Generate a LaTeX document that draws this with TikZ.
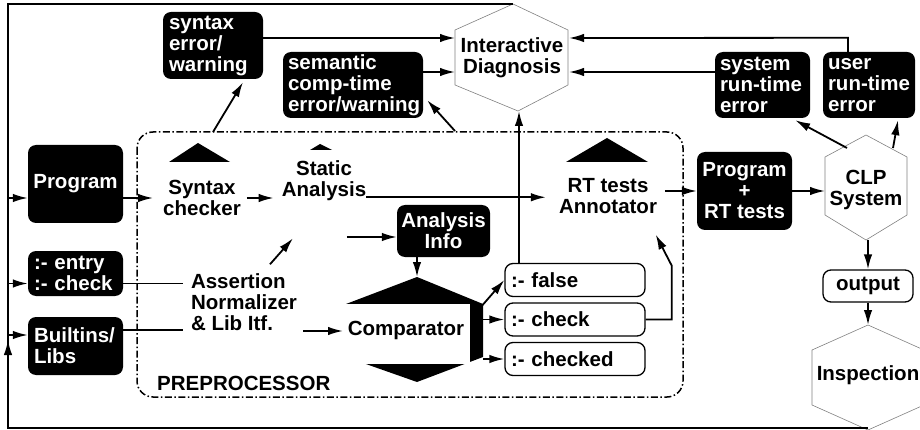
\documentclass[tikz,border=0pt]{standalone}
\usepackage{fontspec}
\setmainfont{Liberation Sans}
\usetikzlibrary{arrows.meta}
\begin{document}
\begin{tikzpicture}[x=1pt,y=-1pt,
	every node/.style={font=\fontsize{20.5}{21}\selectfont\bfseries, inner sep=0pt},
	blkbox/.style={fill=black, text=white, rounded corners=8pt},
	wbox/.style={draw, line width=1.3pt, rounded corners=8pt, inner xsep=6pt, minimum height=33pt},
	hexline/.style={draw=gray, line width=0.6pt},
	link/.style={line width=1.8pt},
	arr/.style={line width=1.8pt, -{Latex[length=15pt,width=8.5pt]}}]
	\useasboundingbox (0,0) rectangle (920,430);
	\draw[line width=1.5pt, dash pattern=on 7pt off 2.5pt on 1.5pt off 2.5pt, rounded corners=16pt] (137,132) rectangle (683,397);
	\draw[hexline] (513,4) -- (568,30) -- (568,85) -- (518,111) -- (455,85) -- (455,30) -- cycle;
	\draw[hexline] (866,135) -- (907,157) -- (907,215) -- (866,240) -- (825,215) -- (825,157) -- cycle;
	\draw[hexline] (868,325) -- (924,350) -- (924,405) -- (868,430) -- (812,405) -- (812,350) -- cycle;
	\fill (169,162) -- (198,143) -- (230,162) -- cycle;
	\fill (310,150) -- (320,144) -- (332,150) -- cycle;
	\fill (566,162) -- (607,138) -- (648,162) -- cycle;
	\fill (346,304) -- (417,277) -- (483,304) -- (483,357) -- (417,382) -- (346,357) -- cycle;
	\fill[white] (346,304) rectangle (470,364);
	\coordinate (diagT) at (513,4);
	\coordinate (diagL1) at (455,38);
	\coordinate (diagL2) at (455,72);
	\coordinate (diagR1) at (569,38);
	\coordinate (diagR2) at (569,72);
	\coordinate (diagB) at (519,111);
	\coordinate (clpT1) at (847,148);
	\coordinate (clpT2) at (893,148);
	\coordinate (clpW) at (825,191);
	\coordinate (clpB) at (868,240);
	\coordinate (inspT) at (868,325);
	\coordinate (inspB) at (868,428);
	\coordinate (cornerB) at (8,428);
	\coordinate (cornerT) at (8,4);
	\coordinate (synT) at (213,132);
	\coordinate (statNE) at (455,131);
	\coordinate (compT) at (417,277);
	\coordinate (compW) at (343,331);
	\coordinate (compNE) at (480,308);
	\coordinate (compE) at (483,330);
	\node[blkbox, minimum width=95pt, minimum height=78pt] at (75.5,184) (prog) {Program};
	\node[blkbox, minimum width=95pt, minimum height=45pt, text width=83pt, align=left] at (75.5,273.5) (entry) {:- entry\\:- check};
	\node[blkbox, minimum width=95pt, minimum height=58pt, text width=83pt, align=left] at (75.5,346) (lib) {Builtins/\\Libs};
	\node[blkbox, minimum width=100pt, minimum height=67pt, text width=88pt, align=left] at (213,45.5) (synerr) {syntax\\error/\\warning};
	\node[blkbox, minimum width=140pt, minimum height=66pt, text width=130pt, align=left] at (353,85) (semerr) {semantic\\comp-time\\error/warning};
	\node[blkbox, minimum width=95pt, minimum height=66pt, text width=85pt, align=left] at (762.5,85) (sysrt) {system\\run-time\\error};
	\node[blkbox, minimum width=92pt, minimum height=66pt, text width=82pt, align=left] at (869,85) (usrrt) {user\\run-time\\error};
	\node[blkbox, minimum width=93pt, minimum height=52pt, align=center] at (443.5,231) (info) {Analysis\\Info};
	\node[blkbox, minimum width=95pt, minimum height=78pt, align=center] at (744.5,191) (rtprog) {Program\\+\\RT tests};
	\node[wbox, minimum width=140pt, text width=128pt, align=left] at (575,280) (false) {:- false};
	\node[wbox, minimum width=140pt, text width=128pt, align=left] at (575,319.5) (check) {:- check};
	\node[wbox, minimum width=140pt, text width=128pt, align=left] at (575,359) (checked) {:- checked};
	\node[wbox, minimum width=90pt, minimum height=32pt, align=center] at (868,286) (output) {output};
	\node[align=center] at (202,198) (syn) {Syntax\\checker};
	\node[align=center] at (324,181) (stat) {Static\\Analysis};
	\node[align=center] at (608,196) (annot) {RT tests\\Annotator};
	\node[align=left] at (244,302) (assert) {Assertion\\Normalizer\\\& Lib Itf.};
	\node at (406,330) (comp) {Comparator};
	\node[anchor=west] at (157,383) (pre) {PREPROCESSOR};
	\node[align=center] at (512,58) (diag) {Interactive\\Diagnosis};
	\node[align=center] at (866,190) (clp) {CLP\\System};
	\node at (868,375) (insp) {Inspection};
	\draw[link] (inspB) -- (cornerB) -- (cornerT) -- (diagT);
	\draw[arr] (cornerB) -- ([yshift=88pt]cornerB);
	\draw[arr] (cornerT |- syn) -- (prog.west |- syn);
	\draw[arr] ([yshift=-10pt]entry.west -| cornerT) -- ([yshift=-10pt]entry.west);
	\draw[arr] ([yshift=11pt]lib.west -| cornerT) -- ([yshift=11pt]lib.west);
	\draw[link] ([yshift=-10pt]entry.east) -- ([xshift=-8pt,yshift=-10pt]entry.east -| assert.west);
	\draw[link] ([yshift=16pt]lib.east) -- ([xshift=-8pt,yshift=16pt]lib.east -| assert.west);
	\draw[arr] (prog.east |- syn) -- ([xshift=-10pt]syn.west);
	\draw[arr] ([xshift=6pt]syn.east) -- ([xshift=-8pt]stat.west |- syn);
	\draw[arr] (synT) -- ([xshift=30pt,yshift=-3pt]synerr.south);
	\draw[arr] ([yshift=4pt]stat.south east) -- ([xshift=-13pt,yshift=4pt]stat.south east -| annot.west);
	\draw[arr] (statNE) -- ([xshift=4pt,yshift=18pt]semerr.south east);
	\draw[arr] ([xshift=26pt,yshift=9pt]assert.north) -- ([xshift=-31pt,yshift=-37pt]stat.south);
	\draw[arr] ([xshift=-50pt,yshift=-6pt]info.west) -- ([yshift=-6pt]info.west);
	\draw[arr] (info.south -| compT) -- (compT);
	\draw[arr] ([xshift=6pt]assert.east |- compW) -- (compW);
	\draw[arr] (compNE) -- (false.west);
	\draw[arr] (check.west -| compE) -- (check.west);
	\draw[arr] (checked.west -| compE) -- (checked.west);
	\draw[arr] (false.north -| diagB) -- (diagB);
	\draw[arr] (check.east) -- ++(26,0) -- ++(0,-54) -- ++(-16,-31);
	\draw[arr] ([xshift=-32pt]rtprog.west) -- (rtprog.west);
	\draw[arr] (rtprog.east) -- (clpW);
	\draw[arr] (clpT1) -- ([xshift=-15pt,yshift=-2pt]sysrt.south east);
	\draw[arr] (clpT2) -- ([xshift=29pt,yshift=-2pt]usrrt.south);
	\draw[arr] ([xshift=-21pt]usrrt.north) -- ++(0,-14) -- (diagR1);
	\draw[arr] (sysrt.west |- diagR2) -- (diagR2);
	\draw[arr] (synerr.east |- diagL1) -- (diagL1);
	\draw[arr] (semerr.east |- diagL2) -- (diagL2);
	\draw[arr] (clpB) -- (output.north);
	\draw[arr] (output.south) -- (inspT);
\end{tikzpicture}
\end{document}
